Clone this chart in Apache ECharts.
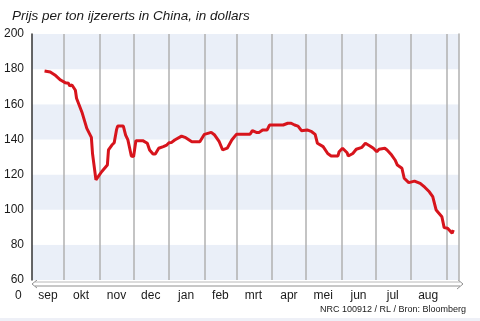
<!DOCTYPE html>
<html>
<head>
<meta charset="utf-8">
<script src="https://cdn.jsdelivr.net/npm/echarts@6/dist/echarts.min.js"></script>
<style>
html,body{margin:0;padding:0;background:#fff;}
#c{width:480px;height:321px;}
</style>
</head>
<body>
<div id="c"></div>
<script>
var titleText = 'Prijs per ton ijzererts in China, in dollars';
var sourceText = 'NRC 100912 / RL / Bron: Bloomberg';
var monthNames = ['jan','feb','mrt','apr','mei','jun','jul','aug','sep','okt','nov','dec'];
var monthStarts = ['2009-10-01','2009-11-01','2009-12-01','2010-01-01','2010-02-01','2010-03-01','2010-04-01','2010-05-01','2010-06-01','2010-07-01','2010-08-01','2010-09-01'];
var labelDates = ['2009-09-17','2009-10-16','2009-11-16','2009-12-16','2010-01-16','2010-02-15','2010-03-16','2010-04-16','2010-05-16','2010-06-16','2010-07-16','2010-08-16'];
var yTicks = [60, 80, 100, 120, 140, 160, 180, 200];

var dates = ['2009-09-14','2009-09-19','2009-09-23','2009-09-28','2009-10-02','2009-10-05','2009-10-06','2009-10-08','2009-10-11','2009-10-12','2009-10-17','2009-10-21','2009-10-25','2009-10-26','2009-10-29','2009-10-31',
'2009-11-03','2009-11-08','2009-11-09','2009-11-12','2009-11-14','2009-11-16','2009-11-17','2009-11-22','2009-11-24','2009-11-26','2009-11-29','2009-12-01','2009-12-03','2009-12-09','2009-12-13','2009-12-15','2009-12-18','2009-12-20','2009-12-23','2009-12-27','2009-12-30',
'2010-01-01','2010-01-03','2010-01-06','2010-01-12','2010-01-15','2010-01-21','2010-01-28','2010-02-01','2010-02-07','2010-02-10','2010-02-14','2010-02-17','2010-02-21','2010-02-25','2010-03-01','2010-03-13','2010-03-15','2010-03-19','2010-03-21','2010-03-24','2010-03-28','2010-03-30',
'2010-04-11','2010-04-15','2010-04-18','2010-04-21','2010-04-24','2010-04-27','2010-05-02','2010-05-06','2010-05-09','2010-05-11','2010-05-16','2010-05-20','2010-05-23','2010-05-29','2010-05-30','2010-06-02','2010-06-06','2010-06-07','2010-06-11','2010-06-14','2010-06-19','2010-06-22','2010-06-26','2010-06-29',
'2010-07-02','2010-07-04','2010-07-09','2010-07-11','2010-07-15','2010-07-18','2010-07-20','2010-07-24','2010-07-26','2010-07-30','2010-08-04','2010-08-09','2010-08-13','2010-08-17','2010-08-20','2010-08-23','2010-08-28','2010-08-30','2010-09-02','2010-09-06','2010-09-07'];
var prices = [179,178.4,176.7,173.8,172.3,172,170.4,171,168,163.4,155,146.3,141.2,132,117,118.8,
121.6,125.4,134,136.8,138.1,145.4,147.6,147.6,142.5,139.7,130.6,130.2,139.3,139.3,137.8,134,131.7,131.7,135,135.9,136.8,
138.1,138.2,139.7,141.9,141.2,138.7,138.7,142.9,144,142.5,138.7,134,135,139.7,142.9,142.9,145,143.9,144,145.4,145.4,148.2,
148.2,149.2,149.2,148.2,147.6,145,145.4,144.4,142.9,137.8,135.9,132,130.6,130.6,133,135,132.4,130.6,132,134.4,135.5,137.8,136.3,135,
133,134.4,135,134,131.1,128.3,125.4,123.6,117.9,115.4,116.3,115,112.8,110.2,107.4,99.8,96,89.8,89.4,86.6,88.4];

function ts(s){ var p = s.split('-'); return new Date(+p[0], +p[1]-1, +p[2]).getTime(); }

var chart = echarts.init(document.getElementById('c'), null, {renderer:'canvas'});
var font = "'Liberation Sans', Arial, sans-serif";
var narrow = "'Liberation Sans Narrow', 'Liberation Sans', Arial, sans-serif";

chart.setOption({
  animation: false,
  backgroundColor: '#ffffff',
  title: {
    text: titleText, left: 7, top: 4,
    textStyle: {fontFamily: font, fontStyle: 'italic', fontWeight: 'normal', fontSize: 13.5, color: '#1a1a1a'}
  },
  grid: {left: 32, right: 21, top: 34, bottom: 41},
  xAxis: {
    type: 'value',
    min: ts('2009-09-03'), max: ts('2010-09-12'),
    axisLine: {show: false},
    axisTick: {show: false},
    splitLine: {show: false},
    axisLabel: {
      customValues: labelDates.map(ts),
      formatter: function(v){ return monthNames[new Date(v).getMonth()]; },
      margin: 10, color: '#1a1a1a', fontSize: 12, fontFamily: font
    }
  },
  yAxis: [{
    type: 'value', min: 60, max: 200, interval: 20,
    axisLine: {show: true, lineStyle: {color: '#333', width: 1.5}},
    axisTick: {show: false},
    splitLine: {show: false},
    splitArea: {show: true, areaStyle: {color: ['#eaeff8', '#ffffff']}},
    axisLabel: {color: '#1a1a1a', fontSize: 12, fontFamily: font, margin: 8}
  }, {
    type: 'value', min: 60, max: 200, position: 'right',
    axisLine: {show: true, lineStyle: {color: '#b0b0b0', width: 1.5}},
    axisTick: {show: false}, axisLabel: {show: false}, splitLine: {show: false}
  }],
  series: [{
    type: 'line',
    data: dates.map(function(d, i){ return [ts(d), prices[i]]; }),
    showSymbol: false,
    lineStyle: {color: '#d7141c', width: 3},
    z: 5,
    markLine: {
      silent: true, symbol: 'none', label: {show: false},
      lineStyle: {color: '#b0b0b0', width: 1.5, type: 'solid'},
      data: monthStarts.map(function(d){ return {xAxis: ts(d)}; }),
      z: 1
    }
  }],
  graphic: [
    {type: 'text', left: 15, top: 290, style: {text: '0', fill: '#1a1a1a', font: '12px ' + font}},
    {type: 'polyline', shape: {points: [[35,282],[460,282]]}, style: {stroke: '#b8b8b8', lineWidth: 1}},
    {type: 'polyline', shape: {points: [[35,286],[460,286]]}, style: {stroke: '#909090', lineWidth: 1}},
    {type: 'polyline', shape: {points: [[37,280],[32,284],[37,288]]}, style: {stroke: '#909090', lineWidth: 1, fill: null}},
    {type: 'polyline', shape: {points: [[457,279],[463,284],[457,289]]}, style: {stroke: '#909090', lineWidth: 1, fill: null}},
    {type: 'text', right: 14, top: 305, style: {text: sourceText, fill: '#1a1a1a', font: '9px ' + narrow}},
    {type: 'rect', shape: {x: 0, y: 318, width: 480, height: 3}, style: {fill: '#eef0f7'}}
  ]
});
</script>
</body>
</html>
